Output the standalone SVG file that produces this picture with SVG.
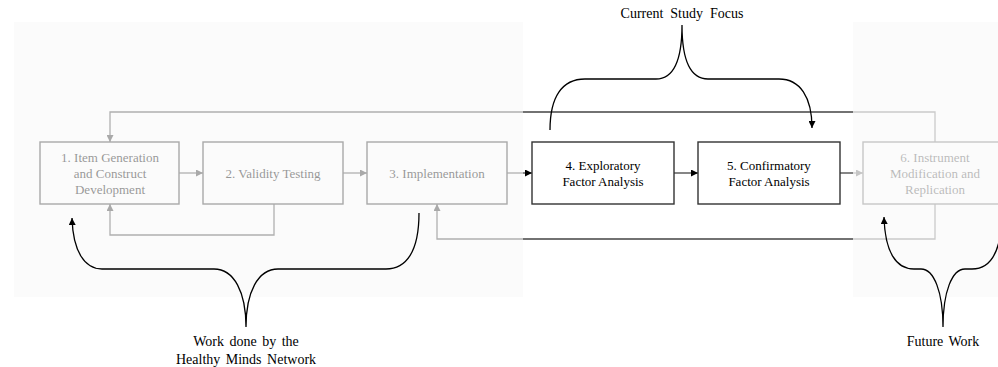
<svg xmlns="http://www.w3.org/2000/svg" width="998" height="367" viewBox="0 0 998 367">
<defs>
<marker id="ah" viewBox="0 0 10 10" refX="10" refY="5" markerWidth="7" markerHeight="7" markerUnits="userSpaceOnUse" orient="auto">
<path d="M0,0 L10,5 L0,10 Z" fill="#000"/>
</marker>
<marker id="ahg" viewBox="0 0 10 10" refX="10" refY="5" markerWidth="7" markerHeight="7" markerUnits="userSpaceOnUse" orient="auto">
<path d="M0,0 L10,5 L0,10 Z" fill="#333"/>
</marker>
<style>
text{font-family:"Liberation Serif","Times New Roman",serif;font-size:13px;fill:#000;text-anchor:middle}
.box{fill:none;stroke:#333;stroke-width:1.4}
.conn{fill:none;stroke:#444;stroke-width:1.3}
.brace{fill:none;stroke:#000;stroke-width:1.3}
.lbl{font-size:14px;word-spacing:2px}
</style>
</defs>
<rect width="998" height="367" fill="#fff"/>
<g id="connectors">
<path class="conn" d="M179,173 H203" marker-end="url(#ahg)"/>
<path class="conn" d="M343,173 H367" marker-end="url(#ahg)"/>
<path class="conn" d="M507,173 H532" marker-end="url(#ah)"/>
<path class="conn" d="M674,173 H698" marker-end="url(#ah)"/>
<path class="conn" d="M840,173 H863" marker-end="url(#ahg)"/>
<path class="conn" d="M935,142 V112 H110 V142" marker-end="url(#ahg)"/>
<path class="conn" d="M935,204 V239 H437 V204" marker-end="url(#ahg)"/>
<path class="conn" d="M274,204 V235 H110 V204" marker-end="url(#ahg)"/>
</g>
<g id="n1"><rect class="box" x="40" y="142" width="139" height="62"/>
<text x="110" y="162">1. Item Generation</text><text x="110" y="178">and Construct</text><text x="110" y="194">Development</text></g>
<g id="n2"><rect class="box" x="203" y="142" width="140" height="62"/>
<text x="273" y="178">2. Validity Testing</text></g>
<g id="n3"><rect class="box" x="367" y="142" width="140" height="62"/>
<text x="437" y="178">3. Implementation</text></g>
<g id="n4"><rect class="box" x="532" y="142" width="142" height="62"/>
<text x="603" y="170">4. Exploratory</text><text x="603" y="186">Factor Analysis</text></g>
<g id="n5"><rect class="box" x="698" y="142" width="142" height="62"/>
<text x="769" y="170">5. Confirmatory</text><text x="769" y="186">Factor Analysis</text></g>
<g id="n6"><rect class="box" x="863" y="142" width="144" height="62"/>
<text x="935" y="162">6. Instrument</text><text x="935" y="178">Modification and</text><text x="935" y="194">Replication</text></g>
<g id="overlays">
<rect x="14" y="22" width="509" height="275" fill="#f8f8f8" fill-opacity="0.6"/>
<rect x="853" y="22" width="145" height="275" fill="#f9f9f9" fill-opacity="0.74"/>
</g>
<g id="braces">
<path class="brace" d="M550,130 C550,97 562,79 585,79 H656 C673,79 682,62 682,25 C682,62 691,79 708,79 H779 C800,79 812,97 812,128" marker-end="url(#ah)"/>
<path class="brace" d="M419,213 C419,252 406,269 386,269 H278 C258,269 246,292 246,327 C246,292 234,269 214,269 H102 C85,269 73,252 72,218" marker-end="url(#ah)"/>
<path class="brace" d="M1002,216 C1001,252 990,269 972,269 H965 C952,269 943,292 943,327 C943,292 934,269 921,269 H914 C896,269 885,252 884,217" marker-end="url(#ah)"/>
</g>
<g id="labels">
<text class="lbl" x="682" y="18" style="word-spacing:3.5px">Current Study Focus</text>
<text class="lbl" x="246" y="346">Work done by the</text>
<text class="lbl" x="246" y="364">Healthy Minds Network</text>
<text class="lbl" x="943" y="346">Future Work</text>
</g>
</svg>
